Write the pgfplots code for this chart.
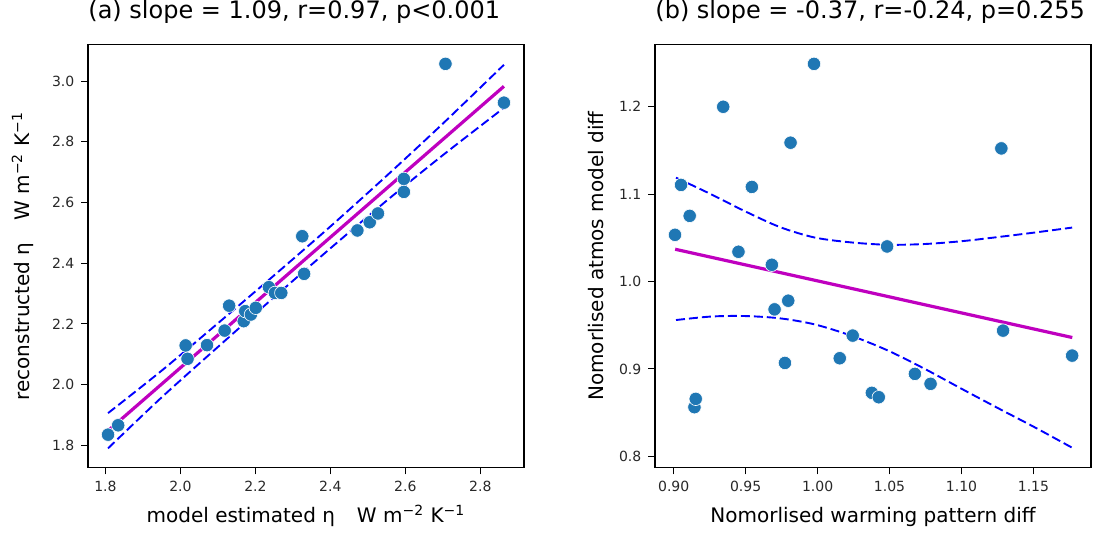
\documentclass[border=0pt]{standalone}
\usepackage{fontspec}
\setmainfont{DejaVu Sans}
\usepackage{pgfplots}
\pgfplotsset{compat=1.18}

\definecolor{mplblue}{RGB}{31,119,180}
\definecolor{mplmag}{RGB}{191,0,191}
\definecolor{ticktext}{RGB}{40,40,40}

\pgfplotsset{
  panel/.style={
    scale only axis,
    width=218pt, height=211.5pt,
    axis line style={black, line width=0.6pt},
    tick pos=left, tick align=outside,
    major tick length=3.3pt,
    every tick/.style={black, line width=0.5pt},
    tick label style={font=\fontsize{7}{8}\selectfont, text=ticktext},
    /pgf/number format/assume math mode=true,
    label style={font=\fontsize{10}{12}\selectfont},
    xlabel style={at={(axis description cs:0.5,-0.130)}, anchor=base},
    title style={font=\fontsize{12}{14}\selectfont, at={(axis description cs:0,1)},
      anchor=base west, inner sep=0pt, yshift=7.25pt},
  },
  pts/.style={only marks, mark=*, mark size=3.35pt,
    mark options={fill=mplblue, draw=white, line width=0.3pt}},
  fit/.style={mplmag, line width=1.6pt},
  band/.style={blue, line width=0.95pt, dash pattern=on 4.5pt off 2pt, smooth, tension=0.5},
}

\begin{document}
\begin{tikzpicture}
% whole figure frame, same margins as the reference
\path (-44pt,-34pt) rectangle (503pt,228.5pt);

% (a)
\begin{axis}[panel,
    xmin=1.7535, xmax=2.9165, ymin=1.726, ymax=3.12,
    xtick={1.8,2.0,2.2,2.4,2.6,2.8},
    ytick={1.8,2.0,2.2,2.4,2.6,2.8,3.0},
    xticklabel style={/pgf/number format/.cd, fixed, fixed zerofill, precision=1},
    yticklabel style={/pgf/number format/.cd, fixed, fixed zerofill, precision=1},
    ylabel style={at={(axis description cs:-0.150,0.5)}, anchor=center},
    title={(a) slope = 1.09, r=0.97, p<0.001},
    xlabel={model estimated η\hspace{1.1em}W m\textsuperscript{−2} K\textsuperscript{−1}},
    ylabel={reconstructed η\hspace{1.1em}W m\textsuperscript{−2} K\textsuperscript{−1}},
]
\addplot[pts] coordinates {
  (1.807,1.835) (1.834,1.866) (2.014,2.129) (2.019,2.085) (2.071,2.130)
  (2.118,2.178) (2.130,2.260) (2.169,2.209) (2.173,2.242) (2.188,2.231)
  (2.201,2.253) (2.236,2.321) (2.252,2.302) (2.269,2.302) (2.325,2.489)
  (2.330,2.365) (2.472,2.508) (2.505,2.535) (2.527,2.564) (2.596,2.678)
  (2.596,2.635) (2.707,3.057) (2.863,2.929)
};
\addplot[fit] coordinates {(1.807,1.848) (2.863,2.983)};
\addplot[band] coordinates {
  (1.807,1.906) (1.95,2.046) (2.1,2.202) (2.25,2.360) (2.4,2.521)
  (2.55,2.688) (2.7,2.860) (2.863,3.054)
};
\addplot[band] coordinates {
  (1.807,1.790) (1.95,1.958) (2.1,2.124) (2.25,2.288) (2.4,2.449)
  (2.55,2.606) (2.7,2.756) (2.863,2.912)
};
\end{axis}

% (b)
\begin{axis}[panel, xshift=283.5pt,
    xmin=0.887, xmax=1.190, ymin=0.787, ymax=1.271,
    xtick={0.90,0.95,1.00,1.05,1.10,1.15},
    ytick={0.8,0.9,1.0,1.1,1.2},
    xticklabel style={/pgf/number format/.cd, fixed, fixed zerofill, precision=2},
    yticklabel style={/pgf/number format/.cd, fixed, fixed zerofill, precision=1},
    ylabel style={at={(axis description cs:-0.1356,0.5)}, anchor=center},
    title={(b) slope = -0.37, r=-0.24, p=0.255},
    xlabel={Nomorlised warming pattern diff},
    ylabel={Nomorlised atmos model diff},
]
\addplot[pts] coordinates {
  (0.9009,1.0535) (0.9051,1.1106) (0.9111,1.0752) (0.9144,0.8563) (0.9153,0.8658)
  (0.9344,1.2000) (0.9450,1.0341) (0.9543,1.1083) (0.9682,1.0192) (0.9701,0.9682)
  (0.9773,0.9069) (0.9796,0.9781) (0.9812,1.1589) (0.9975,1.2491) (1.0154,0.9123)
  (1.0244,0.9382) (1.0377,0.8727) (1.0425,0.8677) (1.0483,1.0402) (1.0676,0.8944)
  (1.0785,0.8830) (1.1277,1.1524) (1.1289,0.9439) (1.1769,0.9153)
};
\addplot[fit] coordinates {(0.901,1.037) (1.177,0.936)};
\addplot[band] coordinates {
  (0.9016,1.1189) (0.926,1.0999) (0.949,1.0809) (0.9736,1.0625) (0.998,1.0504)
  (1.0235,1.0448) (1.049,1.0421) (1.0746,1.0430) (1.1001,1.0462) (1.1256,1.0510)
  (1.1512,1.0562) (1.1769,1.0618)
};
\addplot[band] coordinates {
  (0.9016,0.9560) (0.926,0.9600) (0.949,0.9606) (0.9736,0.9580) (0.998,0.9510)
  (1.0235,0.9380) (1.049,0.9210) (1.0746,0.9000) (1.1001,0.8773) (1.1256,0.8550)
  (1.1512,0.8330) (1.1769,0.8099)
};
\end{axis}
\end{tikzpicture}
\end{document}
